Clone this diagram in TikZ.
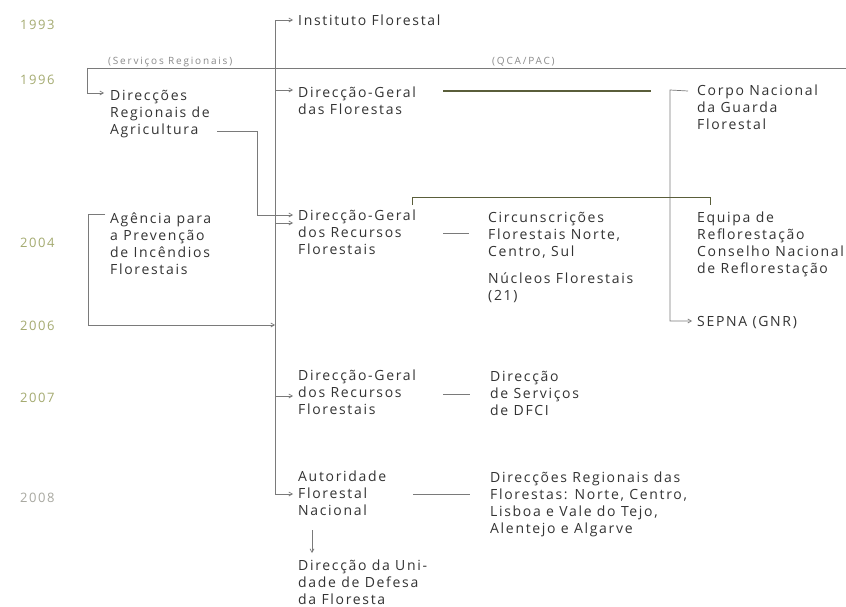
\documentclass[tikz,border=0pt]{standalone}
\usepackage{fontspec}
\setmainfont{Open Sans}
\newfontfamily\lblfont[LetterSpace=12]{Open Sans}
\newfontfamily\smfont[LetterSpace=18]{Open Sans}
\usetikzlibrary{arrows.meta,calc}
\definecolor{txt}{HTML}{333333}
\definecolor{yr}{HTML}{A4AA70}
\definecolor{yrg}{HTML}{A8A8A0}
\definecolor{ln}{HTML}{7A7A7A}
\definecolor{olv}{HTML}{5A5E3A}
\definecolor{sm}{HTML}{8A8A8A}
\tikzset{
  lbl/.style={anchor=north west,yshift=10pt,inner sep=0pt,align=left,text=txt,
    font=\lblfont\fontsize{14}{17}\selectfont},
  year/.style={anchor=base west,inner sep=0pt,text=yr,font=\lblfont\fontsize{13}{15}\selectfont},
  small/.style={anchor=base west,inner sep=0pt,text=sm,font=\smfont\fontsize{10}{12}\selectfont},
  conn/.style={draw=ln,line width=0.7pt},
  arr/.style={conn,-{Straight Barb[length=3.5pt,width=4pt]}},
  heavy/.style={draw=olv,line width=1.3pt},
}
\begin{document}
\begin{tikzpicture}[x=1pt,y=-1pt]
\clip (0,0) rectangle (846,607);
\fill[white] (0,0) rectangle (846,607);
% years
\node[year] (y93) at (20,30) {1993};
\node[year] (y96) at (20,85) {1996};
\node[year] (y04) at (20,247) {2004};
\node[year] (y06) at (20,330) {2006};
\node[year] (y07) at (20,402) {2007};
\node[year,text=yrg] (y08) at (20,502) {2008};
% small labels
\node[small] (sr) at (108,65) {(Serviços Regionais)};
\node[small] (qca) at (492,65) {(QCA/PAC)};
% nodes (coordinate = baseline of first line)
\node[lbl] (inst) at (298,25) {Instituto Florestal};
\node[lbl] (dgf) at (298,97) {Direcção-Geral\\das Florestas};
\node[lbl] (dra) at (110,100) {Direcções\\Regionais de\\Agricultura};
\node[lbl] (apif) at (110,223) {Agência para\\a Prevenção\\de Incêndios\\Florestais};
\node[lbl] (dgrf1) at (298,220) {Direcção-Geral\\dos Recursos\\Florestais};
\node[lbl] (circ) at (488,222) {Circunscrições\\Florestais Norte,\\Centro, Sul};
\node[lbl] (nuc) at (488,283) {Núcleos Florestais\\(21)};
\node[lbl] (corpo) at (697,95) {Corpo Nacional\\da Guarda\\Florestal};
\node[lbl] (equipa) at (697,222) {Equipa de\\Reflorestação\\Conselho Nacional\\de Reflorestação};
\node[lbl] (sepna) at (697,326) {SEPNA (GNR)};
\node[lbl] (dgrf2) at (298,380) {Direcção-Geral\\dos Recursos\\Florestais};
\node[lbl] (dsd) at (490,381) {Direcção\\de Serviços\\de DFCI};
\node[lbl] (afn) at (298,481) {Autoridade\\Florestal\\Nacional};
\node[lbl] (drf) at (490,482) {Direcções Regionais das\\Florestas: Norte, Centro,\\Lisboa e Vale do Tejo,\\Alentejo e Algarve};
\node[lbl] (dudf) at (298,570) {Direcção da Uni-\\dade de Defesa\\da Floresta};
% coordinates
\coordinate (htop) at (87,68);
\coordinate (hend) at (846,68);
\coordinate (mtop) at (275,20);
\coordinate (mbot) at (275,494);
% top horizontal
\draw[conn] (htop) -- (hend);
\draw[arr] (htop) |- ($(dra.north west)+(-6,3)$);
% main vertical
\draw[arr] (mbot) -- (mtop) -- ($(inst.north west)+(-5,5)$);
\draw[arr] (275,90) -- ($(dgf.north west)+(-5,3)$);
\draw[arr] (275,223) -- ($(dgrf1.north west)+(-5,13)$);
\draw[arr] (275,396) -- ($(dgrf2.north west)+(-5,26)$);
\draw[arr] (mbot) -- ($(afn.north west)+(-5,23)$);
% Agricultura to DGRF
\draw[arr] (217,131) -| (257,215) -- ($(dgrf1.north west)+(-5,5)$);
% APIF bracket
\draw[arr] ($(apif.north west)+(-5,1)$) -- (88,214) |- (275,325);
% DGF to Corpo
\draw[heavy] (443,91) -- (651,91);
% Corpo bracket to SEPNA
\draw[arr] ($(corpo.north west)+(-9,6)$) -- (670,90) |- ($(sepna.north west)+(-5,5)$);
% bracket over circ / equipa
\draw[draw=olv,line width=0.9pt] (412,205) -- (412,197) -- (710,197) -- (710,205);
% dashes
\draw[conn] (443,233) -- ($(circ.north west)+(-19,21)$);
\draw[conn] (443,394) -- ($(dsd.north west)+(-20,23)$);
\draw[conn] (413,494) -- ($(drf.north west)+(-20,22)$);
% down arrow
\draw[arr] (312,530) -- ($(dudf.north west)+(14,-7)$);
\end{tikzpicture}
\end{document}
